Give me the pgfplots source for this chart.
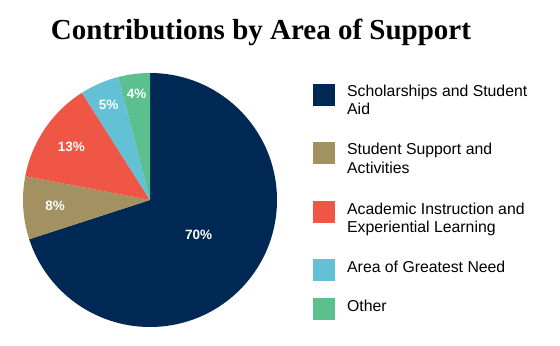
\documentclass[border=0pt]{standalone}
\usepackage{pgfplots}
\pgfplotsset{compat=1.18}
\usepackage{fontspec}
\setmainfont{Liberation Sans}
\newfontfamily\titlefont{Liberation Serif}
\definecolor{cNavy}{HTML}{002855}
\definecolor{cTan}{HTML}{A39161}
\definecolor{cRed}{HTML}{EF5645}
\definecolor{cCyan}{HTML}{62C1D5}
\definecolor{cGreen}{HTML}{5BC08E}
% slice: start (cumulative %), value (%), colour, label radius
\newcommand\slice[4]{%
  \fill[#3] (axis cs:150,145) -- ++({90-3.6*#1}:127bp)
    arc[start angle={90-3.6*#1}, end angle={90-3.6*(#1+#2)}, radius=127bp] -- cycle;
  \node[text=white, font=\bfseries\fontsize{13.5bp}{15bp}\selectfont]
    at ($(axis cs:150,145)+({90-3.6*(#1+#2/2)}:#4bp)$) {#2\%};
}
\newcommand\legitem[4]{%
  \fill[#2] (axis cs:313,{345-#1}) rectangle (axis cs:335,{345-#1-22});
  \node[anchor=base west, inner sep=0pt, font=\fontsize{15.8bp}{18bp}\selectfont]
    at (axis cs:347,{345-#1-13}) {#3};
  \node[anchor=base west, inner sep=0pt, font=\fontsize{15.8bp}{18bp}\selectfont]
    at (axis cs:347,{345-#1-31}) {#4};
}
\usetikzlibrary{calc}
\begin{document}
\begin{tikzpicture}
\begin{axis}[
  width=560bp, height=345bp, scale only axis,
  xmin=0, xmax=560, ymin=0, ymax=345,
  hide axis, clip=false,
]
\path (axis cs:0,0) rectangle (axis cs:560,345);
\slice{0}{70}{cNavy}{60}
\slice{70}{8}{cTan}{95}
\slice{78}{13}{cRed}{95}
\slice{91}{5}{cCyan}{104}
\slice{96}{4}{cGreen}{107}
\node[anchor=base, inner sep=0pt, font=\titlefont\bfseries\fontsize{29bp}{32bp}\selectfont]
  at (axis cs:261,{345-40}) {Contributions by Area of Support};
\legitem{84}{cNavy}{Scholarships and Student}{Aid}
\legitem{142}{cTan}{Student Support and}{Activities}
\legitem{201}{cRed}{Academic Instruction and}{Experiential Learning}
\legitem{259}{cCyan}{Area of Greatest Need}{}
\legitem{298}{cGreen}{Other}{}
\end{axis}
\end{tikzpicture}
\end{document}
